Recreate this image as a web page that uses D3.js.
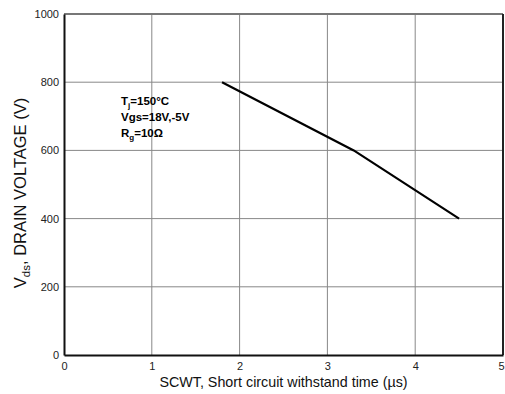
<!DOCTYPE html>
<html>
<head>
<meta charset="utf-8">
<script src="https://cdn.jsdelivr.net/npm/d3@7"></script>
<style>
  body { margin: 0; background: #fff; }
  svg text { font-family: "Liberation Sans", Arial, sans-serif; }
</style>
</head>
<body>
<div id="chart-area"></div>
<script>
// DATA
var scwt = [1.8, 3.3, 4.5];
var vds = [800, 600, 400];
var xTicks = [0, 1, 2, 3, 4, 5];
var yTicks = [0, 200, 400, 600, 800, 1000];

// SIZE
var margin = { top: 14, right: 2, bottom: 39, left: 64 };
var width = 505 - margin.left - margin.right;
var height = 394 - margin.top - margin.bottom;

var svg = d3.select("#chart-area")
    .append("svg")
    .attr("width", 505)
    .attr("height", 394);

var g = svg.append("g")
    .attr("transform", "translate(" + margin.left + "," + margin.top + ")");

var x = d3.scaleLinear().domain([0, 5]).range([0, width]);
var y = d3.scaleLinear().domain([0, 1000]).range([height, 0]);

// Grid
g.selectAll(".vgrid").data(xTicks.slice(1, -1)).enter().append("line")
    .attr("x1", d => x(d)).attr("x2", d => x(d))
    .attr("y1", 0).attr("y2", height)
    .attr("stroke", "#888").attr("stroke-width", 1);

g.selectAll(".hgrid").data(yTicks.slice(1, -1)).enter().append("line")
    .attr("y1", d => y(d)).attr("y2", d => y(d))
    .attr("x1", 0).attr("x2", width)
    .attr("stroke", "#888").attr("stroke-width", 1);

// Top & right frame
g.append("line").attr("x1", 0).attr("x2", width).attr("y1", 0).attr("y2", 0)
    .attr("stroke", "#777").attr("stroke-width", 2);
g.append("line").attr("x1", width).attr("x2", width).attr("y1", 0).attr("y2", height)
    .attr("stroke", "#222").attr("stroke-width", 2);

// Axes
var xAxis = g.append("g")
    .attr("transform", "translate(0," + height + ")")
    .call(d3.axisBottom(x).tickValues(xTicks).tickFormat(d3.format("d")).tickSize(0).tickPadding(7));
var yAxis = g.append("g")
    .call(d3.axisLeft(y).tickValues(yTicks).tickFormat(d3.format("d")).tickSize(0).tickPadding(5));

[xAxis, yAxis].forEach(a => {
    a.select(".domain").attr("stroke", "#111").attr("stroke-width", 2);
    a.selectAll("text").attr("font-size", "11px").attr("fill", "#222")
        .attr("font-family", "'Liberation Sans', Arial, sans-serif");
});
// keep the last x label inside the window
xAxis.selectAll(".tick").filter(d => d === 5).select("text").attr("dx", -2);

// Line
var line = d3.line().x((d, i) => x(scwt[i])).y(d => y(d));
g.append("path")
    .datum(vds)
    .attr("d", line)
    .attr("fill", "none")
    .attr("stroke", "#000")
    .attr("stroke-width", 2.2);

// Annotation
var ann = g.append("g").attr("font-size", "11.5px").attr("font-weight", "bold").attr("fill", "#000");
var t1 = ann.append("text").attr("x", 57).attr("y", 91);
t1.append("tspan").text("T");
t1.append("tspan").attr("font-size", "8px").attr("dy", 3).text("j");
t1.append("tspan").attr("dy", -3).text("=150°C");
ann.append("text").attr("x", 57).attr("y", 107).text("Vgs=18V,-5V");
var t3 = ann.append("text").attr("x", 57).attr("y", 123);
t3.append("tspan").text("R");
t3.append("tspan").attr("font-size", "8px").attr("dy", 3).text("g");
t3.append("tspan").attr("dy", -3).text("=10Ω");

// X label
svg.append("text")
    .attr("x", margin.left + width / 2)
    .attr("y", 387)
    .attr("font-size", "14.3px")
    .attr("text-anchor", "middle")
    .attr("fill", "#111")
    .text("SCWT, Short circuit withstand time (µs)");

// Y label
var yl = svg.append("text")
    .attr("transform", "translate(26,193) rotate(-90)")
    .attr("font-size", "16.5px")
    .attr("text-anchor", "middle")
    .attr("fill", "#111");
yl.append("tspan").text("V");
yl.append("tspan").attr("font-size", "11.5px").attr("dy", 4).text("ds");
yl.append("tspan").attr("dy", -4).text(", DRAIN VOLTAGE (V)");
</script>
</body>
</html>
